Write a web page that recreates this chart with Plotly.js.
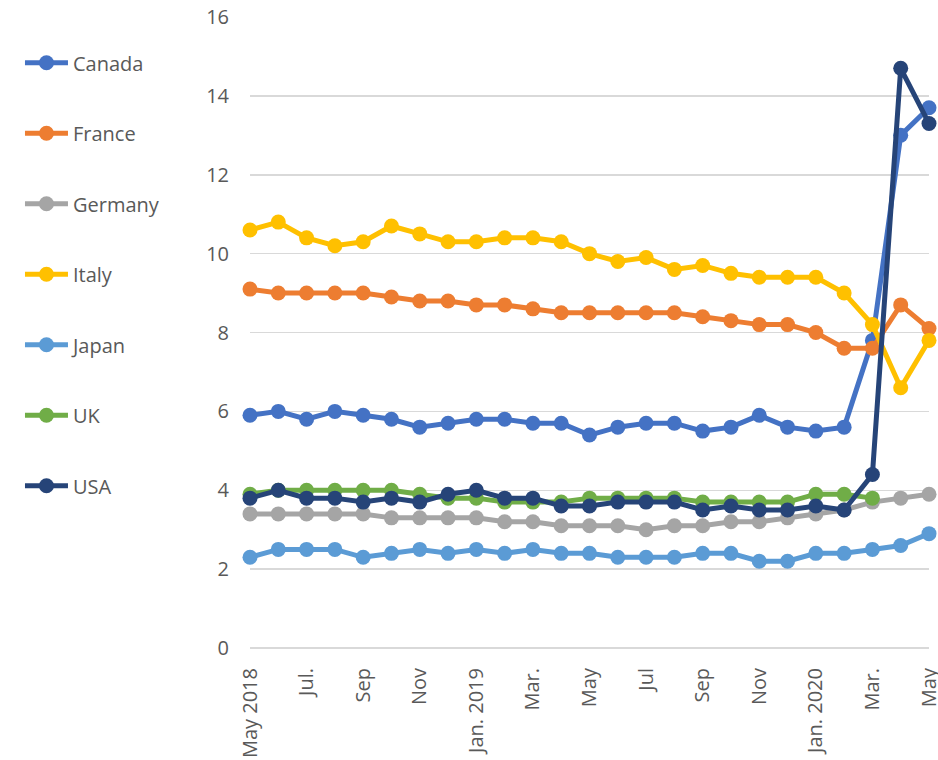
<!DOCTYPE html>
<html>
<head>
<meta charset="utf-8">
<script src="https://cdn.plot.ly/plotly-3.0.1.min.js"></script>
<style>html,body{margin:0;padding:0;background:#fff;}#chart{width:938px;height:760px;}</style>
</head>
<body>
<div id="chart"></div>
<script>
const months = ["May 2018","Jun 2018","Jul 2018","Aug 2018","Sep 2018","Oct 2018","Nov 2018","Dec 2018",
  "Jan 2019","Feb 2019","Mar 2019","Apr 2019","May 2019","Jun 2019","Jul 2019","Aug 2019","Sep 2019","Oct 2019","Nov 2019","Dec 2019",
  "Jan 2020","Feb 2020","Mar 2020","Apr 2020","May 2020"];
const tickMonths = ["May 2018","Jul 2018","Sep 2018","Nov 2018","Jan 2019","Mar 2019","May 2019","Jul 2019","Sep 2019","Nov 2019","Jan 2020","Mar 2020","May 2020"];
const tickLabels = ["May 2018","Jul.","Sep","Nov","Jan. 2019","Mar.","May","Jul","Sep","Nov","Jan. 2020","Mar.","May"];

const canada  = [5.9,6.0,5.8,6.0,5.9,5.8,5.6,5.7,5.8,5.8,5.7,5.7,5.4,5.6,5.7,5.7,5.5,5.6,5.9,5.6,5.5,5.6,7.8,13.0,13.7];
const france  = [9.1,9.0,9.0,9.0,9.0,8.9,8.8,8.8,8.7,8.7,8.6,8.5,8.5,8.5,8.5,8.5,8.4,8.3,8.2,8.2,8.0,7.6,7.6,8.7,8.1];
const germany = [3.4,3.4,3.4,3.4,3.4,3.3,3.3,3.3,3.3,3.2,3.2,3.1,3.1,3.1,3.0,3.1,3.1,3.2,3.2,3.3,3.4,3.5,3.7,3.8,3.9];
const italy   = [10.6,10.8,10.4,10.2,10.3,10.7,10.5,10.3,10.3,10.4,10.4,10.3,10.0,9.8,9.9,9.6,9.7,9.5,9.4,9.4,9.4,9.0,8.2,6.6,7.8];
const japan   = [2.3,2.5,2.5,2.5,2.3,2.4,2.5,2.4,2.5,2.4,2.5,2.4,2.4,2.3,2.3,2.3,2.4,2.4,2.2,2.2,2.4,2.4,2.5,2.6,2.9];
const uk      = [3.9,4.0,4.0,4.0,4.0,4.0,3.9,3.8,3.8,3.7,3.7,3.7,3.8,3.8,3.8,3.8,3.7,3.7,3.7,3.7,3.9,3.9,3.8,null,null];
const usa     = [3.8,4.0,3.8,3.8,3.7,3.8,3.7,3.9,4.0,3.8,3.8,3.6,3.6,3.7,3.7,3.7,3.5,3.6,3.5,3.5,3.6,3.5,4.4,14.7,13.3];

const seriesNames = ["Canada","France","Germany","Italy","Japan","UK","USA"];
const seriesData = [canada,france,germany,italy,japan,uk,usa];
const colors = ["#4472C4","#ED7D31","#A5A5A5","#FFC000","#5B9BD5","#70AD47","#264478"];

const traces = seriesNames.map((n,i)=>({
  type:'scatter', mode:'lines+markers', name:n, x:months, y:seriesData[i],
  legendgroup:'g'+i,
  line:{color:colors[i], width:5},
  marker:{color:colors[i], size:15},
  connectgaps:false, cliponaxis:false
}));

const layout = {
  width:938, height:760,
  margin:{l:250, r:9, t:17, b:112},
  paper_bgcolor:'#fff', plot_bgcolor:'#fff',
  font:{family:'"Open Sans", "DejaVu Sans", sans-serif', color:'#595959', size:20},
  showlegend:true,
  legend:{xref:'container', yref:'container', x:0.0213, y:0.943, xanchor:'left', yanchor:'top',
    font:{size:20, color:'#595959'}, tracegroupgap:41.5, itemwidth:43, maxheight:700, bgcolor:'rgba(0,0,0,0)'},
  xaxis:{type:'category', range:[0,24], tickmode:'array', tickvals:tickMonths, ticktext:tickLabels,
    tickangle:-90, showgrid:false, zeroline:false, showline:false, ticks:'', ticklabelstandoff:15,
    tickfont:{size:20, color:'#595959'}, fixedrange:true},
  yaxis:{range:[0,16], dtick:2, tick0:0, showgrid:true, gridcolor:'#d9d9d9', gridwidth:1.5,
    zeroline:true, zerolinecolor:'#d9d9d9', zerolinewidth:1.5, showline:false, ticks:'', ticklabelstandoff:20,
    tickfont:{size:20, color:'#595959'}, fixedrange:true}
};

Plotly.newPlot('chart', traces, layout, {displayModeBar:false, staticPlot:true});
</script>
</body>
</html>
